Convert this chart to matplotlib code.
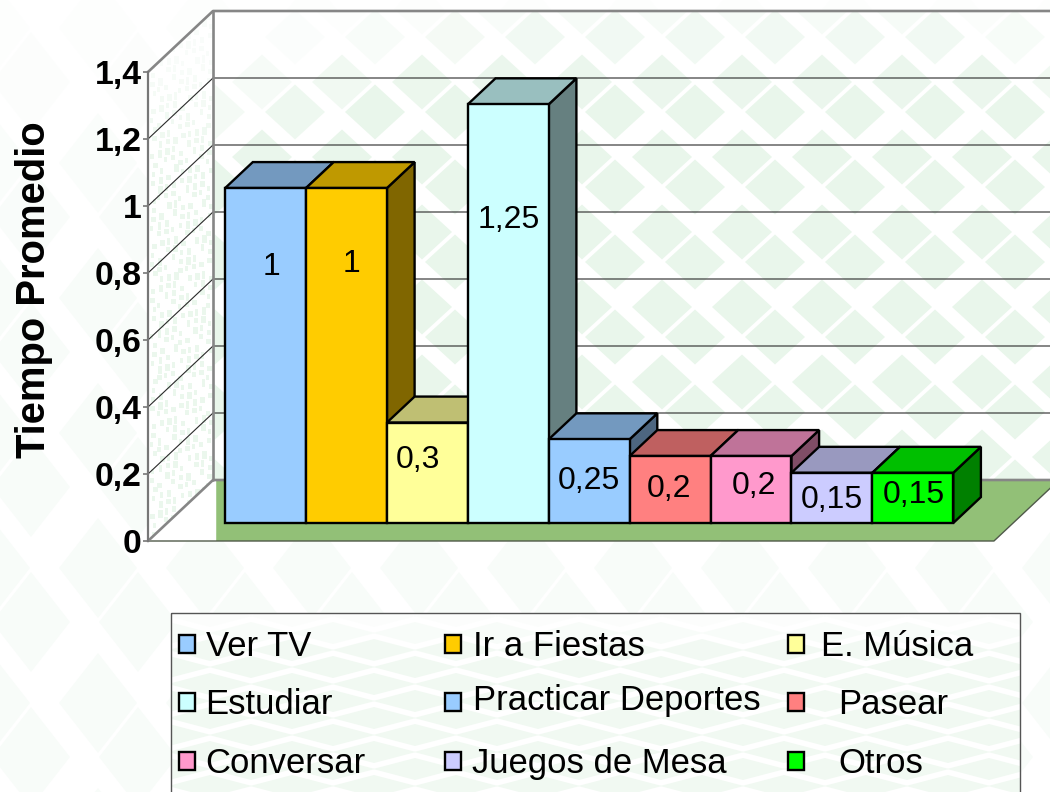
import matplotlib
matplotlib.use("Agg")
import matplotlib.pyplot as plt
from matplotlib.patches import Polygon, Rectangle
import numpy as np

plt.rcParams["font.family"] = ["Liberation Sans", "DejaVu Sans"]

categories = ["Ver TV", "Ir a Fiestas", "E. Música", "Estudiar", "Practicar Deportes",
              "Pasear", "Conversar", "Juegos de Mesa", "Otros"]
values = [1, 1, 0.3, 1.25, 0.25, 0.2, 0.2, 0.15, 0.15]
value_labels = ["1", "1", "0,3", "1,25", "0,25", "0,2", "0,2", "0,15", "0,15"]
colors = ["#99CCFF", "#FFCC00", "#FFFF99", "#CCFFFF", "#99CCFF",
          "#FF8080", "#FF99CC", "#CCCCFF", "#00FF00"]
y_ticks = [0, 0.2, 0.4, 0.6, 0.8, 1, 1.2, 1.4]
y_tick_labels = ["0", "0,2", "0,4", "0,6", "0,8", "1", "1,2", "1,4"]

# escala en pixeles (la figura tiene dpi 100)
W, H = 1050, 792
PX_PER_BAR = 80.9
PX_PER_UNIT = 335.0
ORIGIN_X, ORIGIN_Y = 206.0, 541.0
# vector de profundidad: del plano frontal a la pared del fondo
DEPTH_X = 65.0 / PX_PER_BAR
DEPTH_Y = 61.0 / PX_PER_UNIT
BAR_D0, BAR_D1 = 0.295, 0.72
X_LEFT, X_RIGHT = -0.717, 9.74

# ajuste fino de las etiquetas, en pixeles (dx, dy hacia arriba desde la cima)
label_nudge = [(6, -75), (5, -72), (-9, -34), (0, -112), (0, -38), (-1, -29), (3, -26), (0, -24), (1, -19)]

# leyenda: columna y fila de cada entrada, en pixeles
legend_swatch_x = [187, 453, 796, 187, 453, 796, 187, 453, 796]
legend_swatch_y = [644, 644, 644, 702, 702, 702, 761, 761, 761]
legend_text_x = [206, 473, 821, 205, 473, 838, 205, 472, 838]
legend_text_y = [643, 643, 643, 701, 697, 701, 760, 760, 760]


def shade(hex_color, factor):
    rgb = np.array(matplotlib.colors.to_rgb(hex_color)) * factor
    return tuple(rgb)


def proj(x, v, d=0.0):
    return (x + DEPTH_X * d, v + DEPTH_Y * d)


def diamonds(ax, x0, y0, px, py, ox, oy, hw, hh, color, clip=None, fade=None, zorder=1):
    """rombos del fondo, en una reticula con dos filas intercaladas"""
    for j in range(-3, int(H / py) + 4):
        for i in range(-3, int(W / px) + 4):
            for bx, by in ((x0, y0), (x0 + ox, y0 + oy)):
                cx = bx % px + i * px
                cy = by % py + j * py
                alpha = 1.0 if fade is None else fade(cx, cy)
                if alpha <= 0:
                    continue
                p = Polygon([(cx - hw, cy), (cx, cy - hh), (cx + hw, cy), (cx, cy + hh)],
                            closed=True, fc=color, ec="none", alpha=alpha,
                            transform=ax_px.transData, zorder=zorder)
                ax.add_patch(p)
                if clip is not None:
                    p.set_clip_path(clip)


fig = plt.figure(figsize=(W / 100, H / 100), dpi=100, facecolor="white")
ax_px = fig.add_axes([0, 0, 1, 1], zorder=0)
ax_px.set_xlim(0, W)
ax_px.set_ylim(H, 0)
ax_px.axis("off")

ax = fig.add_axes([0, 0, 1, 1], zorder=1)
ax.patch.set_visible(False)
ax.set_xlim(-ORIGIN_X / PX_PER_BAR, (W - ORIGIN_X) / PX_PER_BAR)
ax.set_ylim((ORIGIN_Y - H) / PX_PER_UNIT, ORIGIN_Y / PX_PER_UNIT)

# fondo de la diapositiva
diamonds(ax_px, 98, 568, 107, 135, 40, 54, 39, 50, "#f8fcf9",
         fade=lambda x, y: float(np.clip(0.1 + y / 300, 0, 1)), zorder=0)

# paredes y piso
top = y_ticks[-1]
back_wall = Polygon([proj(X_LEFT, 0, 1), proj(X_RIGHT, 0, 1), proj(X_RIGHT, top, 1), proj(X_LEFT, top, 1)],
                    closed=True, fc="white", ec="none", zorder=1)
side_wall = Polygon([proj(X_LEFT, 0, 0), proj(X_LEFT, 0, 1), proj(X_LEFT, top, 1), proj(X_LEFT, top, 0)],
                    closed=True, fc="white", ec="none", zorder=1)
corner = Polygon([proj(X_LEFT, 0, 0), proj(X_LEFT, 0, 1), (proj(X_LEFT, 0, 1)[0] + 0.04, proj(X_LEFT, 0, 1)[1]),
                  (proj(X_LEFT, 0, 1)[0] + 0.04, 0)], closed=True, fc="white", ec="none", zorder=1)
ax.add_patch(back_wall)
ax.add_patch(side_wall)
ax.add_patch(corner)


def wall_fade(x, y):
    upper = np.clip(0.35 + y / 150, 0, 1)
    left = np.clip((x + 2 * y - 300) / 300, 0, 1)
    right = np.clip((1040 - x + 1.5 * y) / 150, 0, 1)
    return float(upper * left * right)


diamonds(ax, 615, 37, 80, 75, 47, 45, 30, 27.5, "#e9f6eb", clip=back_wall, fade=wall_fade, zorder=1.1)

# vetas verticales de la pared lateral
for i in range(0, 9):
    for j in range(0, 60):
        sx = 150 + i * 7 + (j * 3 % 4)
        sy = 10 + j * 9 + (i * 5 % 7)
        if (i * 7 + j * 3) % 5 == 0:
            continue
        p = Rectangle((sx, sy), 3 + (i + j) % 3, 5 + (i * j) % 4, fc="#ebf7ed", ec="none",
                      alpha=float(np.clip((sy - 20) / 150, 0.25, 1)),
                      transform=ax_px.transData, zorder=1.1)
        ax.add_patch(p)
        p.set_clip_path(side_wall)

floor_x = proj(X_LEFT, 0, 1)[0] + 0.04
ax.add_patch(Polygon([(floor_x, 0), proj(X_RIGHT, 0, 0), proj(X_RIGHT, 0, 1), (floor_x, proj(X_LEFT, 0, 1)[1])],
                     closed=True, fc="#92C077", ec="none", zorder=1.2))
ax.plot([X_LEFT, X_RIGHT, proj(X_RIGHT, 0, 1)[0]], [0, 0, DEPTH_Y], color="#505a4a", lw=1.0, zorder=1.3)

# lineas de la reticula
for tick in y_ticks[1:-1]:
    xs = [proj(X_LEFT, tick, 0)[0], proj(X_LEFT, tick, 1)[0], proj(X_RIGHT, tick, 1)[0]]
    ys = [proj(X_LEFT, tick, 0)[1], proj(X_LEFT, tick, 1)[1], proj(X_RIGHT, tick, 1)[1]]
    ax.plot(xs, ys, color="#2a2a2a", lw=0.8, zorder=1.5)

# bordes grises de las paredes
wall_kw = dict(color="#868686", lw=1.9, zorder=1.6, solid_capstyle="round")
ax.plot([proj(X_LEFT, top, 0)[0], proj(X_LEFT, top, 1)[0], proj(X_RIGHT, top, 1)[0]],
        [proj(X_LEFT, top, 0)[1], proj(X_LEFT, top, 1)[1], proj(X_RIGHT, top, 1)[1]], **wall_kw)
ax.plot([proj(X_LEFT, top, 1)[0], proj(X_LEFT, 0, 1)[0]], [proj(X_LEFT, top, 1)[1], proj(X_LEFT, 0, 1)[1]], **wall_kw)
ax.plot([proj(X_LEFT, 0, 0)[0], proj(X_LEFT, 0, 1)[0], proj(X_RIGHT, 0, 1)[0]],
        [proj(X_LEFT, 0, 0)[1], proj(X_LEFT, 0, 1)[1], proj(X_RIGHT, 0, 1)[1]], **wall_kw)

# barras 3D, de izquierda a derecha
edge = dict(ec="black", lw=1.7, joinstyle="miter")
for i, (val, col) in enumerate(zip(values, colors)):
    x0, x1 = i, i + 1
    side = [proj(x1, 0, BAR_D0), proj(x1, 0, BAR_D1), proj(x1, val, BAR_D1), proj(x1, val, BAR_D0)]
    cap = [proj(x0, val, BAR_D0), proj(x1, val, BAR_D0), proj(x1, val, BAR_D1), proj(x0, val, BAR_D1)]
    front = [proj(x0, 0, BAR_D0), proj(x1, 0, BAR_D0), proj(x1, val, BAR_D0), proj(x0, val, BAR_D0)]
    z = 2 + i * 0.1
    ax.add_patch(Polygon(side, closed=True, fc=shade(col, 0.5), zorder=z, **edge))
    ax.add_patch(Polygon(cap, closed=True, fc=shade(col, 0.75), zorder=z, **edge))
    ax.add_patch(Polygon(front, closed=True, fc=col, zorder=z, **edge))
    ax.annotate(value_labels[i], xy=proj(i + 0.5, val, BAR_D0), xytext=label_nudge[i],
                textcoords="offset pixels", ha="center", va="center_baseline",
                fontsize=23, color="black", zorder=5)

# eje vertical
for s in ("top", "right", "bottom"):
    ax.spines[s].set_visible(False)
ax.spines["left"].set_position(("data", X_LEFT))
ax.spines["left"].set_bounds(0, top)
ax.spines["left"].set_color("#777777")
ax.spines["left"].set_linewidth(1.6)
ax.spines["left"].set_zorder(1.7)
ax.set_xticks([])
ax.set_yticks(y_ticks)
ax.set_yticklabels(y_tick_labels, fontsize=24.3, fontweight="bold", va="center_baseline")
ax.tick_params(axis="y", length=3.6, width=1.2, color="#777777", pad=1)

ax_px.text(34, 290, "Tiempo Promedio", rotation=90, ha="center", va="center",
           fontsize=28.8, fontweight="bold", color="black")

# leyenda
LEG_X0, LEG_Y0, LEG_X1 = 171, 613, 1020
legend_box = Rectangle((LEG_X0, LEG_Y0), LEG_X1 - LEG_X0, H - LEG_Y0 + 10, fc="white", ec="none", zorder=3)
ax_px.add_patch(legend_box)
diamonds(ax_px, 210, 650, 82, 34, 41, 17, 42, 11, "#f1f9f2", clip=legend_box,
         fade=lambda x, y: float(np.clip((y - 615) / 40, 0.2, 1)), zorder=3.1)
ax_px.add_patch(Rectangle((LEG_X0, LEG_Y0), LEG_X1 - LEG_X0, H - LEG_Y0 + 10, fc="none", ec="#555555", lw=1.0, zorder=3.2))
for i, name in enumerate(categories):
    ax_px.add_patch(Rectangle((legend_swatch_x[i] - 8, legend_swatch_y[i] - 9), 16, 18, fc=colors[i],
                              ec="black", lw=1.7, zorder=3.5))
    ax_px.text(legend_text_x[i], legend_text_y[i], name, ha="left", va="center_baseline",
               fontsize=24.95, color="black", zorder=3.6)

fig.savefig("out.png", dpi=100)
